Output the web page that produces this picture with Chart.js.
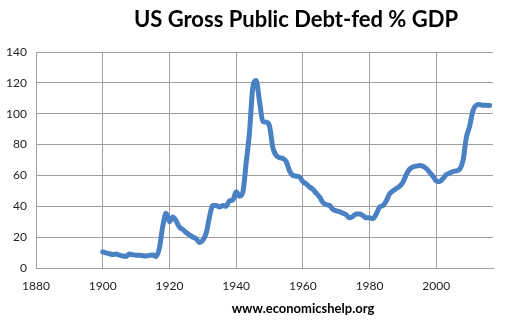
<!DOCTYPE html>
<html>
<head>
<meta charset="utf-8">
<script src="https://cdn.jsdelivr.net/npm/chart.js@4.4.1/dist/chart.umd.min.js"></script>
<style>
    body { margin: 0; background: #fff; }
    #wrap { position: relative; width: 526px; height: 324px; }
    #title { position: absolute; left: 0; top: 5px; width: 592px; text-align: center;
        font: bold 22px Lato, sans-serif; color: #000; }
    #source { position: absolute; left: 0; top: 300px; width: 606px; text-align: center;
        font: bold 13px Lato, sans-serif; color: #000; }
</style>
</head>
<body>
<div id="wrap">
    <canvas id="myChart" width="526" height="324"></canvas>
    <div id="title">US Gross Public Debt-fed % GDP</div>
    <div id="source">www.economicshelp.org</div>
</div>
<script>
const years = [
    1900, 1901, 1902, 1903, 1904, 1905, 1906, 1907, 1908, 1909,
    1910, 1911, 1912, 1913, 1914, 1915, 1916, 1917, 1918, 1919,
    1920, 1921, 1922, 1923, 1924, 1925, 1926, 1927, 1928, 1929,
    1930, 1931, 1932, 1933, 1934, 1935, 1936, 1937, 1938, 1939,
    1940, 1941, 1942, 1943, 1944, 1945, 1946, 1947, 1948, 1949,
    1950, 1951, 1952, 1953, 1954, 1955, 1956, 1957, 1958, 1959,
    1960, 1961, 1962, 1963, 1964, 1965, 1966, 1967, 1968, 1969,
    1970, 1971, 1972, 1973, 1974, 1975, 1976, 1977, 1978, 1979,
    1980, 1981, 1982, 1983, 1984, 1985, 1986, 1987, 1988, 1989,
    1990, 1991, 1992, 1993, 1994, 1995, 1996, 1997, 1998, 1999,
    2000, 2001, 2002, 2003, 2004, 2005, 2006, 2007, 2008, 2009,
    2010, 2011, 2012, 2013, 2014, 2015, 2016
];
const debtPct = [
    10.5, 9.8, 9.2, 8.8, 9, 8.3, 7.8, 7.5, 9, 8.6,
    8.3, 8.3, 8, 7.8, 8.2, 8.5, 7.5, 13, 27, 35.5,
    30, 33, 30.5, 26.5, 25, 23, 21.5, 20, 19, 16.5,
    18, 22.5, 33, 40.5, 40.5, 39.5, 40.5, 40, 43.5, 44,
    49.5, 46.5, 49, 68, 88, 117, 121.5, 108, 95, 94.5,
    92, 78, 73, 71.5, 71, 69, 63, 60, 59.5, 59,
    56, 54.5, 52.5, 51, 48.5, 46, 42.5, 41, 40.5, 38,
    37, 36.5, 35.5, 34.5, 32.5, 33.5, 35, 35, 34, 32.5,
    32.5, 32, 35, 39.5, 40.5, 43.5, 48, 50, 51.5, 53,
    55.5, 60.5, 64, 65.5, 66, 66.5, 66, 64.5, 62, 59.5,
    56.5, 56, 58, 60.5, 61.5, 62.5, 63, 64, 69.5, 84.5,
    92, 102, 105.5, 106, 105.5, 105.5, 105.3
];
const yTicks = [0, 20, 40, 60, 80, 100, 120, 140];
const xTicks = [1880, 1900, 1920, 1940, 1960, 1980, 2000];

const points = years.map((y, i) => ({ x: y, y: debtPct[i] }));
const tickFont = { family: 'Lato, sans-serif', size: 12 };

new Chart(document.getElementById('myChart'), {
    type: 'line',
    data: {
        datasets: [{
            data: points,
            borderColor: '#4a81c4',
            borderWidth: 5,
            pointRadius: 0,
            cubicInterpolationMode: 'monotone',
            borderCapStyle: 'round',
            borderJoinStyle: 'round'
        }]
    },
    options: {
        responsive: false,
        animation: false,
        layout: { padding: { top: 52, right: 33, bottom: 0, left: 0 } },
        scales: {
            x: {
                type: 'linear',
                min: 1880,
                max: 2017,
                afterBuildTicks: scale => { scale.ticks = xTicks.map(v => ({ value: v })); },
                afterFit: scale => { scale.height = 56; },
                grid: { color: '#a0a0a0', drawTicks: false },
                border: { color: '#a0a0a0' },
                ticks: { font: tickFont, color: '#222', padding: 11, maxRotation: 0, callback: v => v }
            },
            y: {
                min: 0,
                max: 140,
                afterBuildTicks: scale => { scale.ticks = yTicks.map(v => ({ value: v })); },
                afterFit: scale => { scale.width = 36; },
                grid: { color: '#a0a0a0', drawTicks: false },
                border: { color: '#a0a0a0' },
                ticks: { font: tickFont, color: '#222', padding: 9 }
            }
        },
        plugins: {
            legend: { display: false },
            tooltip: { enabled: false }
        }
    }
});
</script>
</body>
</html>
